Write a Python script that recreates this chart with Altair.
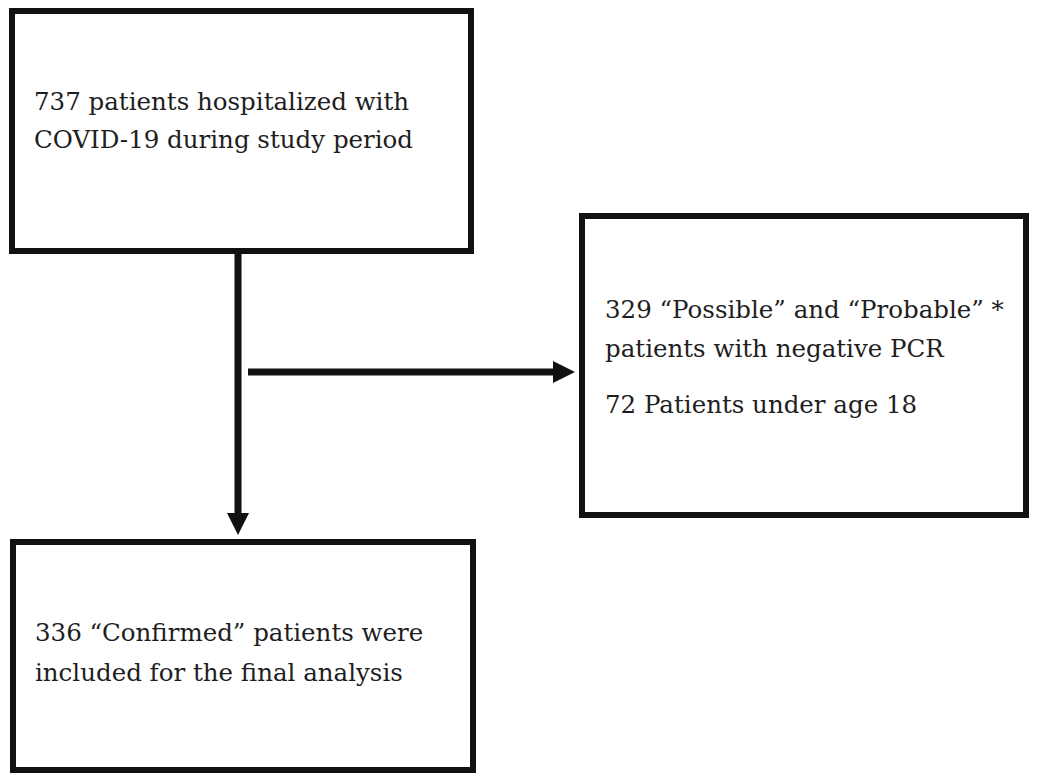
import altair as alt
import pandas as pd

# ---- content (text of each box) ----
box_names = ["start", "excluded", "final"]
box_lines = [
    ["737 patients hospitalized with", "COVID-19 during study period"],
    ["329 \u201cPossible\u201d and \u201cProbable\u201d *", "patients with negative PCR", "72 Patients under age 18"],
    ["336 \u201cConfirmed\u201d patients were", "included for the final analysis"],
]

# ---- layout (page pixel coordinates) ----
W, H = 1021, 765
OX, OY = 8, 8
box_x1 = [12, 582, 13]
box_x2 = [471, 1026, 473]
box_y1 = [11, 216, 542]
box_y2 = [251, 515, 770]
text_x = [34, 605, 35]
text_y = [[110, 148], [318, 357, 413], [641, 681]]

# connectors: vertical trunk and side branch
line_x1 = [238, 248]
line_x2 = [238, 556]
line_y1 = [251, 372]
line_y2 = [516, 372]
head_x = [238, 564]
head_y = [524, 372]
head_shape = ["M-1,-1L1,-1L0,1Z", "M-1,-1L1,0L-1,1Z"]

xs = alt.Scale(domain=[OX, OX + W], nice=False, zero=False)
ys = alt.Scale(domain=[OY, OY + H], nice=False, zero=False, reverse=True)

boxes = pd.DataFrame({"name": box_names, "x1": box_x1, "x2": box_x2,
                      "y1": box_y1, "y2": box_y2})
texts = pd.DataFrame([
    {"text": t, "x": text_x[i], "y": text_y[i][j]}
    for i, lines in enumerate(box_lines) for j, t in enumerate(lines)
])
lines_df = pd.DataFrame({"x1": line_x1, "x2": line_x2, "y1": line_y1, "y2": line_y2})
heads = pd.DataFrame({"x": head_x, "y": head_y, "shape": head_shape})

rects = alt.Chart(boxes).mark_rect(fill="white", stroke="#111111", strokeWidth=6).encode(
    x=alt.X("x1:Q", scale=xs, axis=None), x2="x2:Q",
    y=alt.Y("y1:Q", scale=ys, axis=None), y2="y2:Q",
)

rules = alt.Chart(lines_df).mark_rule(color="#111111", strokeWidth=7).encode(
    x=alt.X("x1:Q", scale=xs, axis=None), x2="x2:Q",
    y=alt.Y("y1:Q", scale=ys, axis=None), y2="y2:Q",
)

arrow_layers = []
for i in range(len(head_x)):
    arrow_layers.append(
        alt.Chart(heads.iloc[[i]]).mark_point(
            shape=head_shape[i], filled=True, size=484, color="#111111", opacity=1
        ).encode(
            x=alt.X("x:Q", scale=xs, axis=None),
            y=alt.Y("y:Q", scale=ys, axis=None),
        )
    )

labels = alt.Chart(texts).mark_text(
    align="left", baseline="alphabetic",
    font="DejaVu Serif",
    fontSize=24.5, color="#1e1e1e"
).encode(
    x=alt.X("x:Q", scale=xs, axis=None),
    y=alt.Y("y:Q", scale=ys, axis=None),
    text="text:N",
)

chart = alt.layer(rects, rules, *arrow_layers, labels).properties(
    width=W, height=H, padding=0, autosize=alt.AutoSizeParams(type="none"),
    background="white"
).configure_view(stroke=None)

chart.save("out.html", embed_options={"renderer": "svg", "actions": False})
